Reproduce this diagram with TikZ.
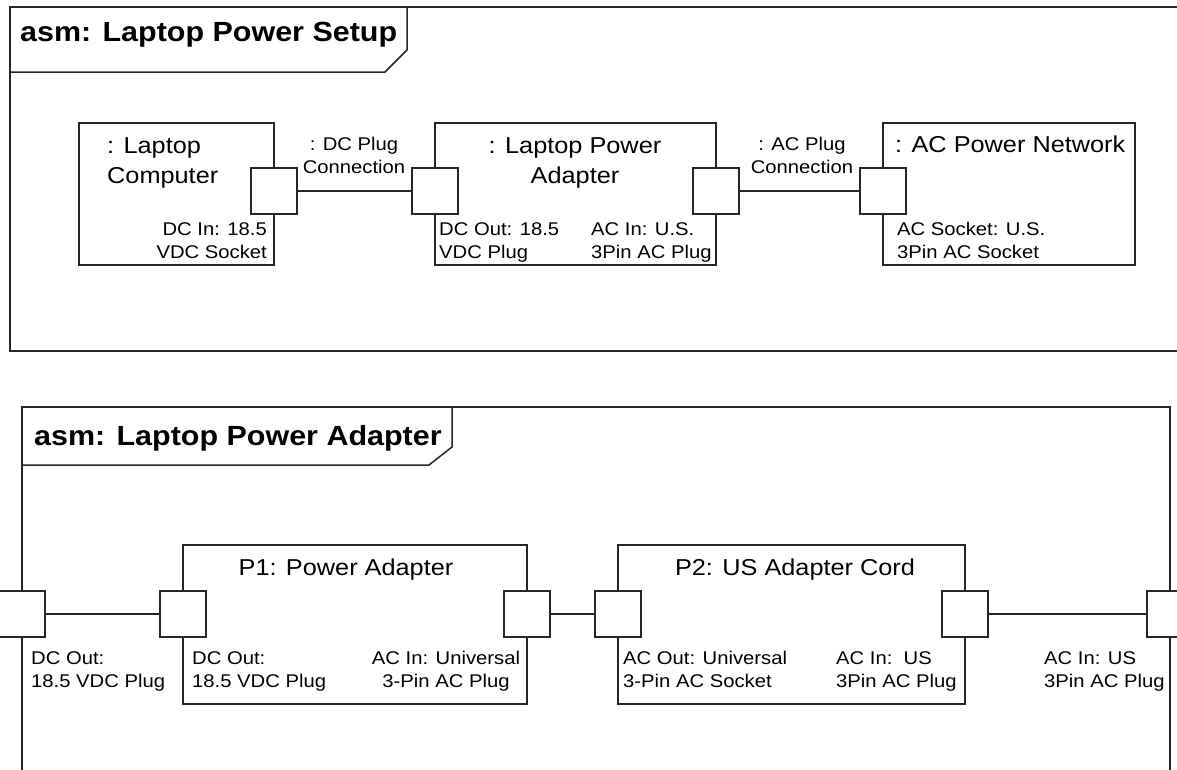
\documentclass[tikz,border=0pt]{standalone}
\usepackage{fontspec}
\setmainfont[FakeStretch=1.1]{Liberation Sans}
\begin{document}
\begin{tikzpicture}[x=1pt,y=-1pt]
\tikzset{
  frameline/.style={draw=black!85, line width=1.5pt},
  conn/.style={draw=black!85, line width=1.3pt},
  part/.style={draw=black!85, line width=1.4pt, fill=white, inner sep=0pt, outer sep=0pt, anchor=north west},
  port/.style={draw=black!85, line width=1.4pt, fill=white, minimum width=46pt, minimum height=46pt, inner sep=0pt, outer sep=0pt},
  bigtxt/.style={font=\fontsize{23}{30}\selectfont, inner sep=0pt},
  smalltxt/.style={font=\fontsize{18.4}{23}\selectfont, inner sep=0pt},
  ttl/.style={font=\fontsize{27.7}{33}\selectfont\bfseries, inner sep=0pt, anchor=base west},
}
\useasboundingbox (0,0) rectangle (1177,769);
\clip (0,0) rectangle (1177,769);
\fill[white] (0,0) rectangle (1177,769);

% ---------- top frame ----------
\draw[frameline] (1195,7) -- (10,7) -- (10,351) -- (1195,351);
\draw[frameline] (10,72) -- (385,72) -- (407,50) -- (407,7);
\node[ttl] (t1) at (20,41) {asm: Laptop Power Setup};

\node[part, minimum width=195pt, minimum height=142pt] (lc) at (79,123) {};
\node[part, minimum width=281pt, minimum height=142pt] (ad) at (435,123) {};
\node[part, minimum width=252pt, minimum height=142pt] (an) at (883,123) {};

\node[port] (lcp) at (274,191) {};
\node[port] (adl) at (435,191) {};
\node[port] (adr) at (716,191) {};
\node[port] (anp) at (883,191) {};

\draw[conn] (lcp.east) -- (adl.west);
\draw[conn] (adr.east) -- (anp.west);

\node[bigtxt, anchor=north west, align=left] (lcn) at (107,137) {: Laptop\\Computer};
\node[bigtxt, anchor=north, align=center] (adn) at (575,137) {: Laptop Power\\Adapter};
\node[bigtxt, anchor=north west] (ann) at (895,136) {: AC Power Network};
\node[smalltxt, anchor=north, align=center] (dcc) at (354,137) {: DC Plug\\Connection};
\node[smalltxt, anchor=north, align=center] (acc) at (802,137) {: AC Plug\\Connection};
\node[smalltxt, anchor=north east, align=right] (lcpl) at (267,222) {DC In: 18.5\\VDC Socket};
\node[smalltxt, anchor=north west, align=left] (adll) at (439,222) {DC Out: 18.5\\VDC Plug};
\node[smalltxt, anchor=north west, align=left] (adrl) at (591,222) {AC In: U.S.\\3Pin AC Plug};
\node[smalltxt, anchor=north west, align=left] (anpl) at (897,222) {AC Socket: U.S.\\3Pin AC Socket};

% ---------- bottom frame ----------
\draw[frameline] (22,790) -- (22,407) -- (1170,407) -- (1170,790);
\draw[frameline] (22,465) -- (429,465) -- (452,447) -- (452,407);
\node[ttl] (t2) at (34,445) {asm: Laptop Power Adapter};

\node[part, minimum width=344pt, minimum height=159pt] (p1) at (183,545) {};
\node[part, minimum width=347pt, minimum height=159pt] (p2) at (618,545) {};

\node[port] (fl) at (22,614) {};
\node[port] (p1l) at (183,614) {};
\node[port] (p1r) at (527,614) {};
\node[port] (p2l) at (618,614) {};
\node[port] (p2r) at (965,614) {};
\node[port] (fr) at (1170,614) {};

\draw[conn] (fl.east) -- (p1l.west);
\draw[conn] (p1r.east) -- (p2l.west);
\draw[conn] (p2r.east) -- (fr.west);

\node[bigtxt, anchor=north] (p1n) at (346,559) {P1: Power Adapter};
\node[bigtxt, anchor=north] (p2n) at (795,559) {P2: US Adapter Cord};
\node[smalltxt, anchor=north west, align=left] (fll) at (31,651) {DC Out:\\18.5 VDC Plug};
\node[smalltxt, anchor=north west, align=left] (p1ll) at (192,651) {DC Out:\\18.5 VDC Plug};
\node[smalltxt, anchor=north, align=center] (p1rl) at (446,651) {AC In: Universal\\3-Pin AC Plug};
\node[smalltxt, anchor=north west, align=left] (p2ll) at (623,651) {AC Out: Universal\\3-Pin AC Socket};
\node[smalltxt, anchor=north west, align=left] (p2rl) at (836,651) {AC In:\ \ US\\3Pin AC Plug};
\node[smalltxt, anchor=north west, align=left] (frl) at (1044,651) {AC In: US\\3Pin AC Plug};
\end{tikzpicture}
\end{document}
